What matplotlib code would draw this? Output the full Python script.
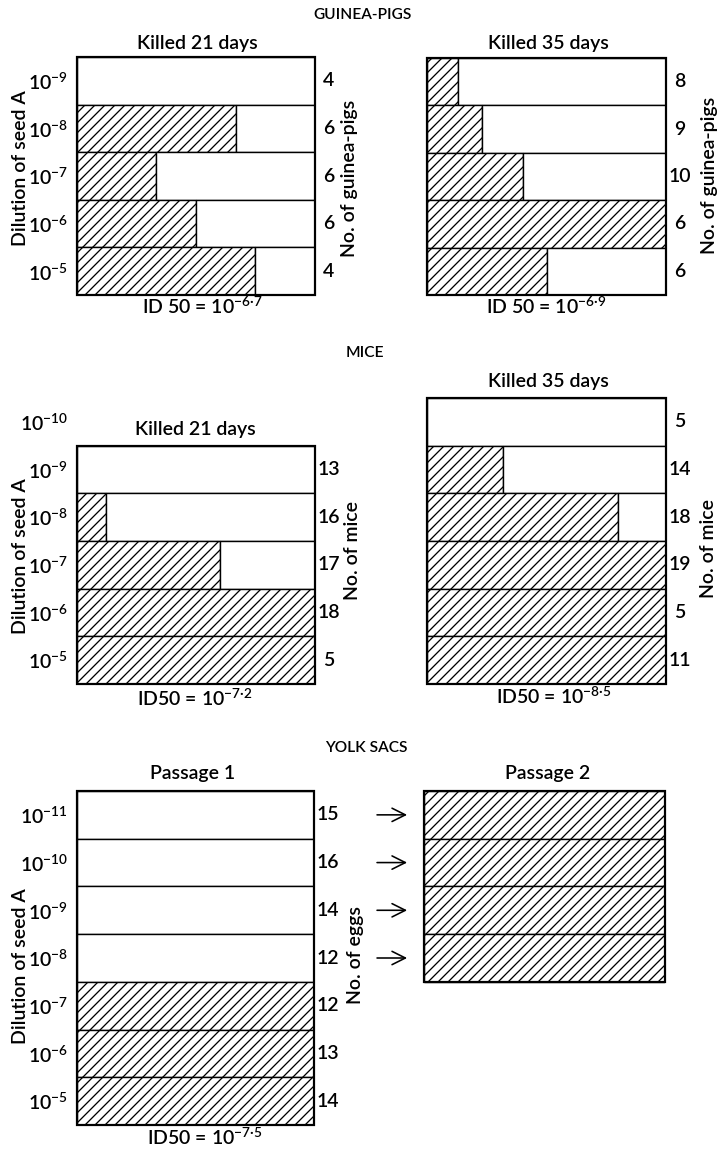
import matplotlib
matplotlib.use('Agg')
import matplotlib.pyplot as plt
from matplotlib.patches import Rectangle

W, H, DPI = 719, 1149, 60
PT = 72.0 / DPI  # points per pixel

plt.rcParams.update({
    'font.family': ['Lato', 'DejaVu Sans'],
    'mathtext.fontset': 'custom',
    'mathtext.rm': 'Lato:semibold',
    'mathtext.it': 'Lato:italic',
    'mathtext.bf': 'Lato:bold',
    'hatch.linewidth': 1.3 * PT,
    'hatch.color': 'black',
})

# ---------------- data (dilution exponents listed top to bottom) ----------------
gp_dil = [9, 8, 7, 6, 5]
gp21_total = [4, 6, 6, 6, 4]
gp21_pct = [0, 67, 33, 50, 75]          # % of row hatched (infected)
gp35_total = [8, 9, 10, 6, 6]
gp35_pct = [13, 23, 40, 100, 50]

mice_dil = [10, 9, 8, 7, 6, 5]
mice21_dil = [9, 8, 7, 6, 5]
mice21_total = [13, 16, 17, 18, 5]
mice21_pct = [0, 12, 60, 100, 100]
mice35_total = [5, 14, 18, 19, 5, 11]
mice35_pct = [0, 32, 80, 100, 100, 100]

yolk_dil = [11, 10, 9, 8, 7, 6, 5]
yolk1_total = [15, 16, 14, 12, 12, 13, 14]
yolk1_pct = [0, 0, 0, 0, 100, 100, 100]
yolk2_dil = [11, 10, 9, 8]
yolk2_pct = [100, 100, 100, 100]

id50_gp21 = '6·7'
id50_gp35 = '6·9'
id50_m21, id50_m35 = '7·2', '8·5'
id50_y1 = '7·5'

# ---------------- figure ----------------
fig = plt.figure(figsize=(W / DPI, H / DPI), dpi=DPI)
fig.patch.set_facecolor('white')

FS = 19.5 * PT       # main text size
FS_T = 15.5 * PT     # section titles
LW_ROW = 1.4 * PT
LW_FRAME = 2.2 * PT
WEIGHT = 'semibold'


def ftext(x, y, s, **kw):
    kw.setdefault('ha', 'center')
    kw.setdefault('va', 'center')
    kw.setdefault('fontsize', FS)
    kw.setdefault('fontweight', WEIGHT)
    fig.text(x / W, 1 - y / H, s, **kw)


def panel(x0, x1, y0, y1, scale, drawn, pct, totals=None, ylabels=True):
    ax = fig.add_axes([x0 / W, 1 - y1 / H, (x1 - x0) / W, (y1 - y0) / H])
    ax.set_xlim(0, 1)
    ax.set_ylim(min(scale) - 0.5, max(scale) + 0.5)
    for d, p in zip(drawn, pct):
        f = p / 100.0
        if f > 0:
            ax.barh(d, f, left=0, height=1, facecolor='white', edgecolor='black',
                    hatch='//', linewidth=LW_ROW)
        if f < 1:
            ax.barh(d, 1 - f, left=f, height=1, facecolor='white', edgecolor='black',
                    linewidth=LW_ROW)
    ax.add_patch(Rectangle((0, min(drawn) - 0.5), 1, len(drawn), fill=False,
                           edgecolor='black', linewidth=LW_FRAME, clip_on=False, zorder=5))
    for s in ax.spines.values():
        s.set_visible(False)
    ax.set_xticks([])
    if ylabels:
        ax.set_yticks(scale)
        ax.set_yticklabels([r'$10^{-%d}$' % d for d in scale], fontsize=FS)
        ax.tick_params(axis='y', length=0, pad=9 * PT)
    else:
        ax.set_yticks([])
    if totals is not None:
        tr = ax.get_yaxis_transform()
        off = 14.0 / (x1 - x0)
        for d, n in zip(drawn, totals):
            ax.text(1 + off, d, str(n), transform=tr, ha='center', va='center',
                    fontsize=FS, fontweight=WEIGHT, clip_on=False)
    return ax


# ---------------- GUINEA-PIGS ----------------
ftext(363, 15, 'GUINEA-PIGS', fontsize=FS_T)
panel(77, 315, 57, 295, gp_dil, gp_dil, gp21_pct, gp21_total)
panel(427, 666, 58, 295, gp_dil, gp_dil, gp35_pct, gp35_total, ylabels=False)
ftext(197, 44, 'Killed 21 days')
ftext(548, 44, 'Killed 35 days')
ftext(202, 306, r'ID 50 = $10^{-%s}$' % id50_gp21)
ftext(546, 306, r'ID 50 = $10^{-%s}$' % id50_gp35)
ftext(21, 168, 'Dilution of seed A', rotation=90)
ftext(349, 178, 'No. of guinea-pigs', rotation=90)
ftext(709, 175, 'No. of guinea-pigs', rotation=90)

# ---------------- MICE ----------------
ftext(365, 353, 'MICE', fontsize=FS_T)
panel(77, 315, 398, 684, mice_dil, mice21_dil, mice21_pct, mice21_total)
panel(427, 666, 398, 684, mice_dil, mice_dil, mice35_pct, mice35_total, ylabels=False)
ftext(195, 430, 'Killed 21 days')
ftext(548, 382, 'Killed 35 days')
ftext(195, 698, r'ID50 = $10^{-%s}$' % id50_m21)
ftext(554, 696, r'ID50 = $10^{-%s}$' % id50_m35)
ftext(21, 556, 'Dilution of seed A', rotation=90)
ftext(353, 550, 'No. of mice', rotation=90)
ftext(708, 548, 'No. of mice', rotation=90)

# ---------------- YOLK SACS ----------------
ftext(366, 748, 'YOLK SACS', fontsize=FS_T)
panel(77, 314, 791, 1125, yolk_dil, yolk_dil, yolk1_pct, yolk1_total)
ax2 = panel(424, 665, 791, 1125, yolk_dil, yolk2_dil, yolk2_pct, ylabels=False)
ftext(193, 774, 'Passage 1')
ftext(548, 773, 'Passage 2')
ftext(205, 1137, r'ID50 = $10^{-%s}$' % id50_y1)
ftext(21, 966, 'Dilution of seed A', rotation=90)
ftext(355, 955, 'No. of eggs', rotation=90)
tr2 = ax2.get_yaxis_transform()
for d in yolk2_dil:
    ax2.annotate('', xy=(-0.07, d), xytext=(-0.195, d), xycoords=tr2, textcoords=tr2,
                 arrowprops=dict(arrowstyle='->', lw=1.6 * PT, color='black',
                                 shrinkA=0, shrinkB=0, mutation_scale=40))

fig.savefig('out.png', dpi=DPI, facecolor='white')
